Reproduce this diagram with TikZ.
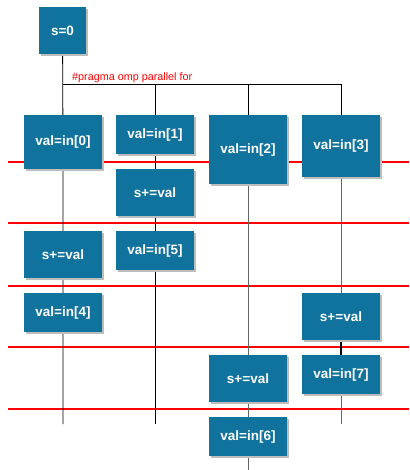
\documentclass[tikz,border=0pt]{standalone}
\usepackage{fontspec}
\setmainfont{Liberation Sans}
\usetikzlibrary{shadows,backgrounds}
\definecolor{boxblue}{HTML}{10739E}
\definecolor{shade}{HTML}{BDBDBD}
\begin{document}
\begin{tikzpicture}[x=1pt, y=-1pt,
    task/.style={fill=boxblue, text=white, font=\fontsize{13.5}{16}\selectfont\bfseries,
      minimum width=78pt, inner sep=0pt, anchor=north,
      drop shadow={shadow xshift=2pt, shadow yshift=-2pt, fill=shade, opacity=1}},
    sync/.style={red, line width=1.6pt},
    flow/.style={black, line width=0.8pt},
    flowg/.style={black!60, line width=0.8pt},
    hold/.style={black, line width=1.6pt}]
  \useasboundingbox (0,0) rectangle (409,470);
  % start
  \node[task, minimum width=47pt, minimum height=47pt] (s0) at (62.5,7) {s=0};
  \node[anchor=base west, text=red, inner sep=0pt,
    font=\fontsize{10.8}{13}\selectfont] (omp) at (72,80.5) {\#pragma omp parallel for};
  % column 1
  \node[task, minimum height=54pt] (v0) at (63,115) {val=in[0]};
  \node[task, minimum height=47pt] (a0) at (63,231) {s+=val};
  \node[task, minimum height=39pt] (v4) at (63,293) {val=in[4]};
  % column 2
  \node[task, minimum height=39pt] (v1) at (155,115) {val=in[1]};
  \node[task, minimum height=47pt] (a1) at (155,169) {s+=val};
  \node[task, minimum height=39pt] (v5) at (155,231) {val=in[5]};
  % column 3
  \node[task, minimum height=69pt] (v2) at (248,115) {val=in[2]};
  \node[task, minimum height=47pt] (a2) at (248,355) {s+=val};
  \node[task, minimum height=39pt] (v6) at (248,417) {val=in[6]};
  % column 4
  \node[task, minimum height=62pt] (v3) at (341,115) {val=in[3]};
  \node[task, minimum height=47pt] (a3) at (341,293) {s+=val};
  \node[task, minimum height=39pt] (v7) at (341,355) {val=in[7]};
  % fork and ends
  \coordinate (f1) at (63,84);
  \coordinate (f2) at (155,84);
  \coordinate (f3) at (248,84);
  \coordinate (f4) at (341,84);
  \coordinate (e1) at (63,424);
  \coordinate (e2) at (155,424);
  \coordinate (e3) at (248,470);
  \coordinate (e4) at (341,424);
  \begin{pgfonlayer}{background}
    % barriers
    \foreach \y in {162,223,286,347,409}
      \draw[sync] (8,\y) -- (409,\y);
    % lines
    \draw[flow] (f1) -- (f4);
    \draw[flow] (s0) -- (v0) -- (a0) -- (v4) -- (e1);
    \draw[flow] (f2) -- (v1) -- (a1) -- (v5) -- (e2);
    \draw[flow] (f3) -- (v2.north);
    \draw[flowg] (v2) -- (a2) -- (v6) -- (e3);
    \draw[flow] (f4) -- (v3.north);
    \draw[flowg] (v3) -- (a3);
    \draw[hold] (a3) -- (v7);
    \draw[flowg] (v7) -- (e4);
  \end{pgfonlayer}
\end{tikzpicture}
\end{document}
